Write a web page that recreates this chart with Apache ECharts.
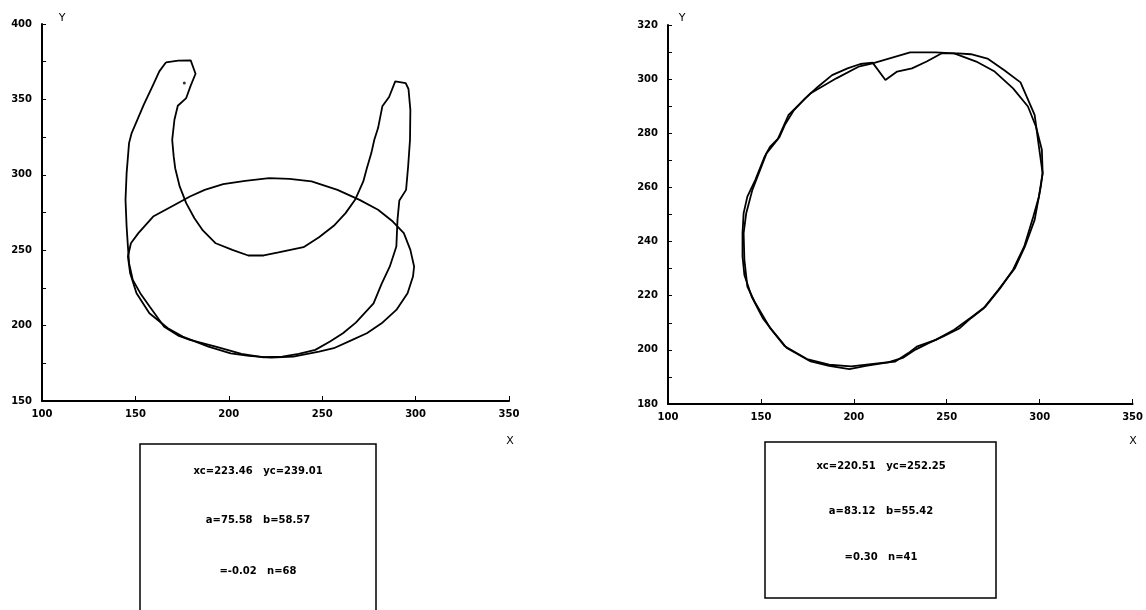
<!DOCTYPE html>
<html>
<head>
<meta charset="utf-8">
<script src="https://cdn.jsdelivr.net/npm/echarts@6/dist/echarts.min.js"></script>
<style>
html,body{margin:0;padding:0;background:#fff;}
#chart{width:1146px;height:610px;}
</style>
</head>
<body>
<div id="chart"></div>
<script>
// ---------- Left panel: contour data (n=68) ----------
const leftDataX = [166.4,172.9,179.6,182.2,179.6,177.2,172.7,170.9,169.7,170.5,171.3,173.7,177.2,181.6,186.1,193.0,201.9,210.4,218.7,226.6,240.0,248.3,256.2,262.5,267.6,272.0,273.9,276.3,277.9,279.9,282.2,285.8,289.1,294.7,296.2,297.2,297.0,296.0,294.9,291.3,290.3,289.7,286.2,281.8,277.5,268.0,261.1,254.2,246.3,237.4,228.6,218.7,206.8,193.0,179.2,173.3,165.4,157.9,152.6,148.6,146.6,146.0,145.3,144.7,145.3,146.6,148.0,154.5,159.5,162.8,166.4];
const leftDataY = [374.6,375.7,375.9,367.0,359.1,350.9,345.8,336.5,323.2,312.2,304.4,292.3,281.2,271.2,263.1,254.6,250.2,246.5,246.5,248.5,252.0,258.6,266.2,274.6,283.4,295.6,304.4,314.4,323.2,331.0,345.4,351.6,362.0,360.8,356.9,343.1,323.2,305.5,290.0,283.0,270.1,252.4,239.2,227.7,214.8,202.0,194.9,189.4,183.9,181.2,179.4,179.0,181.2,186.1,190.5,193.1,199.3,212.2,221.5,230.3,241.4,252.4,265.7,283.4,301.1,321.0,327.7,346.5,359.7,368.6,374.6];
// ---------- Left panel: fitted ellipse outline ----------
const leftFitX = [221.6,232.5,244.3,258.2,270.0,279.9,287.8,293.7,297.2,299.2,298.6,295.7,289.7,281.8,273.9,266.1,256.2,248.3,234.5,222.6,210.8,201.0,189.1,175.3,167.4,157.5,150.6,147.2,146.0,147.6,151.6,159.5,169.4,179.2,187.1,197.0,208.8,221.6];
const leftFitY = [297.8,297.3,295.6,290.0,283.4,276.8,269.0,261.3,250.2,239.2,232.5,221.4,210.4,201.5,194.9,190.5,185.0,182.7,179.4,178.8,179.9,181.6,186.1,192.7,198.2,208.2,221.4,234.7,245.8,254.6,261.3,272.3,279.0,285.6,290.0,293.8,296.0,297.8];
const leftDot = [[176.2, 360.8]];

// ---------- Right panel: contour data (n=41) ----------
const rightDataX = [140.1,140.7,142.7,147.0,152.0,155.0,159.9,162.9,167.8,173.8,180.7,188.3,196.6,203.5,210.1,217.0,223.3,231.3,239.2,247.1,256.0,263.0,271.9,280.8,289.7,297.3,299.6,301.6,300.6,297.3,292.1,286.7,277.8,269.9,263.0,257.0,248.1,240.2,233.2,226.3,218.4,206.5,197.6,186.7,176.8,163.9,155.9,151.0,145.0,141.1,140.1,140.1];
const rightDataY = [243.1,250.5,256.6,262.8,271.4,275.1,278.5,283.1,288.6,292.9,297.2,301.5,304.0,305.6,306.1,299.7,302.8,304.0,306.5,309.5,309.5,309.2,307.6,303.4,298.8,286.8,275.1,265.3,260.3,248.0,238.2,230.2,222.2,215.4,211.7,208.0,205.0,202.5,200.1,197.0,195.4,194.1,192.9,194.1,195.7,200.7,207.4,211.7,219.7,227.7,234.5,243.1];
// ---------- Right panel: fitted ellipse outline ----------
const rightFitX = [141.1,140.7,142.1,145.4,153.0,158.9,164.9,176.8,190.6,202.5,210.1,230.3,244.1,254.0,265.9,275.8,285.7,293.7,298.0,301.2,301.6,299.6,296.6,291.7,285.7,278.8,270.9,264.0,254.0,244.1,234.2,229.3,222.3,210.4,198.6,186.7,174.8,162.9,155.0,147.0,142.7,141.1];
const rightFitY = [233.3,243.1,250.5,259.1,272.6,277.6,286.8,294.8,300.3,304.6,305.8,309.9,309.9,309.5,306.5,302.8,296.6,289.9,282.5,273.9,265.3,256.6,249.3,238.2,229.6,222.8,216.0,212.4,207.4,203.7,201.3,198.8,195.7,194.8,193.9,194.5,196.6,201.3,208.0,217.3,223.4,233.3];

// ---------- Axis ticks / labels ----------
const xTicks = [100, 150, 200, 250, 300, 350];
const leftYTicks = [150, 200, 250, 300, 350, 400];
const rightYTicks = [180, 200, 220, 240, 260, 280, 300, 320];

// ---------- Fit result texts ----------
const leftInfo = ['xc=223.46   yc=239.01', 'a=75.58   b=58.57', '=-0.02   n=68'];
const rightInfo = ['xc=220.51   yc=252.25', 'a=83.12   b=55.42', '=0.30   n=41'];

function pairs(xs, ys){ return xs.map((x,i)=>[x, ys[i]]); }

const FONT = 'DejaVu Sans';
const lblStyle = {color:'#000', fontFamily: FONT, fontSize: 10, fontWeight: 'bold'};

function xAxisFor(gi){
  return {
    gridIndex: gi, type: 'value', min: xTicks[0], max: xTicks[xTicks.length-1],
    interval: xTicks[1]-xTicks[0],
    axisLine: {show:true, onZero:false, lineStyle:{color:'#000', width:2}},
    axisTick: {show:true, inside:true, length:5, lineStyle:{color:'#000', width:1}},
    axisLabel: Object.assign({margin:8}, lblStyle),
    splitLine: {show:false}
  };
}
function yAxisFor(gi, ticks, step){
  return {
    gridIndex: gi, type: 'value', min: ticks[0], max: ticks[ticks.length-1],
    interval: step,
    axisLine: {show:true, onZero:false, lineStyle:{color:'#000', width:2}},
    axisTick: {show:true, inside:true, length:4, lineStyle:{color:'#000', width:1}},
    axisLabel: Object.assign({margin:10, formatter: v => ticks.indexOf(v) >= 0 ? String(v) : ''}, lblStyle),
    splitLine: {show:false}
  };
}
function lineSeries(xi, data){
  return {type:'line', xAxisIndex:xi, yAxisIndex:xi, data:data, showSymbol:false, symbol:'none',
    smooth:false, lineStyle:{color:'#000', width:1.8}, silent:true, animation:false};
}
function txt(t, x, y){
  return {type:'text', x:x, y:y, style:{text:t, fill:'#000', font:'bold 10px "'+FONT+'"', align:'center', verticalAlign:'middle'}};
}

const chart = echarts.init(document.getElementById('chart'), null, {renderer:'canvas'});

chart.setOption({
  backgroundColor:'#fff',
  animation:false,
  grid:[
    {left:42, top:24, width:467, height:377},
    {left:668, top:25, width:465, height:379}
  ],
  xAxis:[xAxisFor(0), xAxisFor(1)],
  yAxis:[yAxisFor(0, leftYTicks, 25), yAxisFor(1, rightYTicks, 10)],
  series:[
    lineSeries(0, pairs(leftDataX, leftDataY)),
    lineSeries(0, pairs(leftFitX, leftFitY)),
    {type:'scatter', xAxisIndex:0, yAxisIndex:0, data:leftDot, symbolSize:3, itemStyle:{color:'#000'}, silent:true},
    lineSeries(1, pairs(rightDataX, rightDataY)),
    lineSeries(1, pairs(rightFitX, rightFitY))
  ],
  graphic:[
    {type:'text', x:62, y:18, style:{text:'Y', fill:'#000', font:'11px "'+FONT+'"', align:'center', verticalAlign:'middle'}},
    {type:'text', x:510, y:441, style:{text:'X', fill:'#000', font:'11px "'+FONT+'"', align:'center', verticalAlign:'middle'}},
    {type:'text', x:682, y:18, style:{text:'Y', fill:'#000', font:'11px "'+FONT+'"', align:'center', verticalAlign:'middle'}},
    {type:'text', x:1133, y:441, style:{text:'X', fill:'#000', font:'11px "'+FONT+'"', align:'center', verticalAlign:'middle'}},
    {type:'rect', shape:{x:140, y:444, width:236, height:180}, style:{fill:'none', stroke:'#000', lineWidth:1.5}},
    {type:'rect', shape:{x:765, y:442, width:231, height:156}, style:{fill:'none', stroke:'#000', lineWidth:1.5}},
    txt(leftInfo[0], 258, 471),
    txt(leftInfo[1], 258, 520),
    txt(leftInfo[2], 258, 571),
    txt(rightInfo[0], 881, 466),
    txt(rightInfo[1], 881, 511),
    txt(rightInfo[2], 881, 557)
  ]
});
</script>
</body>
</html>
